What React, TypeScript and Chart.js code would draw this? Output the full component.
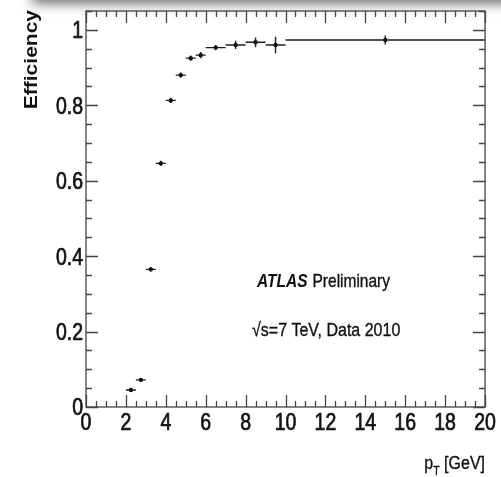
import React, { useEffect, useRef } from 'react';
import { Chart, registerables } from 'chart.js';

Chart.register(...registerables);

// ---- data ----
const binLow = [2, 2.5, 3, 3.5, 4, 4.5, 5, 5.5, 6, 7, 8, 9, 10];
const binHigh = [2.5, 3, 3.5, 4, 4.5, 5, 5.5, 6, 7, 8, 9, 10, 20];
const ptCenter = [2.25, 2.75, 3.25, 3.75, 4.25, 4.75, 5.25, 5.75, 6.5, 7.5, 8.5, 9.5, 15];
const efficiency = [0.045, 0.072, 0.365, 0.646, 0.813, 0.880, 0.925, 0.933, 0.953, 0.960, 0.967, 0.960, 0.973];
const effError = [0.005, 0.005, 0.006, 0.007, 0.007, 0.007, 0.007, 0.008, 0.007, 0.011, 0.013, 0.022, 0.012];

const xTickValues = [0, 2, 4, 6, 8, 10, 12, 14, 16, 18, 20];
const yTickValues = [0, 0.2, 0.4, 0.6, 0.8, 1];
const xMinorStep = 0.5;
const yMinorStep = 0.05;

const yAxisTitle = 'Efficiency';
const xTitleMain = 'p';
const xTitleSub = 'T';
const xTitleUnit = ' [GeV]';
const atlasLabel = 'ATLAS';
const prelimLabel = 'Preliminary';
const energyLabel = '\u221As=7 TeV, Data 2010';

const W = 501;
const H = 477;
const SANS = '"Liberation Sans", Arial, sans-serif';
const STRETCH = 1.2;
const TICK_FONT = `19.5px ${SANS}`;

function stretchedText(
  ctx: CanvasRenderingContext2D,
  text: string,
  x: number,
  y: number,
  font: string,
  align: CanvasTextAlign,
  strokeW = 0
) {
  ctx.save();
  ctx.translate(x, y);
  ctx.scale(1, STRETCH);
  ctx.font = font;
  ctx.textAlign = align;
  ctx.textBaseline = 'alphabetic';
  ctx.fillText(text, 0, 0);
  if (strokeW > 0) {
    ctx.lineWidth = strokeW;
    ctx.strokeStyle = ctx.fillStyle as string;
    ctx.strokeText(text, 0, 0);
  }
  ctx.restore();
}

const rootStylePlugin = {
  id: 'rootStyle',
  beforeDraw(chart: any) {
    const ctx: CanvasRenderingContext2D = chart.ctx;
    ctx.save();
    ctx.fillStyle = '#ffffff';
    ctx.fillRect(0, 0, W, H);
    // top shadow band
    ctx.shadowColor = 'rgba(0,0,0,0.6)';
    ctx.shadowBlur = 12;
    ctx.shadowOffsetY = 3;
    ctx.fillStyle = '#8a8a8a';
    ctx.fillRect(32, -40, W + 60, 40);
    ctx.restore();
  },
  beforeDatasetsDraw(chart: any) {
    const ctx: CanvasRenderingContext2D = chart.ctx;
    const xs = chart.scales.x;
    const ys = chart.scales.y;
    ctx.save();
    ctx.strokeStyle = '#1e1e1e';
    ctx.lineWidth = 1.4;
    for (let i = 0; i < ptCenter.length; i++) {
      const y = ys.getPixelForValue(efficiency[i]);
      const x = xs.getPixelForValue(ptCenter[i]);
      ctx.beginPath();
      ctx.moveTo(xs.getPixelForValue(binLow[i]), y);
      ctx.lineTo(xs.getPixelForValue(binHigh[i]), y);
      ctx.moveTo(x, ys.getPixelForValue(efficiency[i] - effError[i]));
      ctx.lineTo(x, ys.getPixelForValue(efficiency[i] + effError[i]));
      ctx.stroke();
    }
    ctx.restore();
  },
  afterDraw(chart: any) {
    const ctx: CanvasRenderingContext2D = chart.ctx;
    const xs = chart.scales.x;
    const ys = chart.scales.y;
    const { left, right, top, bottom } = chart.chartArea;
    ctx.save();
    ctx.strokeStyle = '#444444';
    ctx.lineWidth = 1.3;
    ctx.strokeRect(left, top, right - left, bottom - top);
    ctx.beginPath();
    // x ticks (bottom & top), inward
    for (let v = xs.min; v <= xs.max + 1e-9; v += xMinorStep) {
      const major = Math.abs(v / 2 - Math.round(v / 2)) < 1e-6;
      const len = major ? 12 : 6;
      const px = Math.round(xs.getPixelForValue(v)) + 0.5;
      ctx.moveTo(px, bottom);
      ctx.lineTo(px, bottom - len);
      ctx.moveTo(px, top);
      ctx.lineTo(px, top + len);
    }
    // y ticks (left & right), inward
    for (let v = ys.min; v <= ys.max + 1e-9; v += yMinorStep) {
      const major = Math.abs(v / 0.2 - Math.round(v / 0.2)) < 1e-6;
      const len = major ? 12 : 6;
      const py = Math.round(ys.getPixelForValue(v)) + 0.5;
      ctx.moveTo(left, py);
      ctx.lineTo(left + len, py);
      ctx.moveTo(right, py);
      ctx.lineTo(right - len, py);
    }
    ctx.stroke();

    ctx.fillStyle = '#111111';
    // tick labels from the library's ticks
    xs.ticks.forEach((t: any) => {
      const label = String(t.value);
      stretchedText(ctx, label, xs.getPixelForValue(t.value), 430, TICK_FONT, 'center', 0.6);
    });
    ys.ticks.forEach((t: any) => {
      const label = String(Number(Number(t.value).toFixed(2)));
      stretchedText(ctx, label, 83, ys.getPixelForValue(t.value) + 8.4, TICK_FONT, 'right', 0.6);
    });

    // y axis title, rotated, aligned to top
    ctx.save();
    ctx.translate(36.5, 10);
    ctx.rotate(-Math.PI / 2);
    ctx.scale(STRETCH, 1);
    ctx.font = `bold 17.5px ${SANS}`;
    ctx.textAlign = 'right';
    ctx.textBaseline = 'alphabetic';
    ctx.fillText(yAxisTitle, 0, 0);
    ctx.restore();

    // x axis title p_T [GeV], right aligned to axis end
    const mainFont = `16px ${SANS}`;
    const subFont = `10.5px ${SANS}`;
    ctx.font = mainFont;
    const wMain = ctx.measureText(xTitleMain).width;
    const wUnit = ctx.measureText(xTitleUnit).width;
    ctx.font = subFont;
    const wSub = ctx.measureText(xTitleSub).width;
    const baseY = 469;
    let tx = right - (wMain + wSub + wUnit);
    stretchedText(ctx, xTitleMain, tx, baseY, mainFont, 'left', 0.3);
    tx += wMain;
    stretchedText(ctx, xTitleSub, tx, baseY + 6, subFont, 'left', 0.3);
    tx += wSub;
    stretchedText(ctx, xTitleUnit, tx, baseY, mainFont, 'left', 0.3);

    // ATLAS Preliminary
    const atlasFont = `italic bold 15.5px ${SANS}`;
    const prelimFont = `15.5px ${SANS}`;
    ctx.font = atlasFont;
    const wAtlas = ctx.measureText(atlasLabel).width;
    stretchedText(ctx, atlasLabel, 257, 286.5, atlasFont, 'left');
    stretchedText(ctx, prelimLabel, 257 + wAtlas + 5, 286.5, prelimFont, 'left', 0.3);
    // energy label
    stretchedText(ctx, energyLabel, 252, 336, `16px ${SANS}`, 'left', 0.3);
    ctx.restore();
  },
};

export default function App() {
  const canvasRef = useRef<HTMLCanvasElement | null>(null);

  useEffect(() => {
    document.body.style.margin = '0';
    const canvas = canvasRef.current;
    if (!canvas) return;
    const points = ptCenter.map((x, i) => ({ x, y: efficiency[i] }));
    const chart = new Chart(canvas, {
      type: 'scatter',
      data: {
        datasets: [
          {
            data: points,
            pointRadius: 2.2,
            pointStyle: 'circle',
            backgroundColor: '#111111',
            borderWidth: 0,
            showLine: false,
          },
        ],
      },
      options: {
        responsive: false,
        animation: false,
        events: [],
        layout: { padding: { top: 11, right: 16, left: 0, bottom: 0 } },
        plugins: {
          legend: { display: false },
          tooltip: { enabled: false },
          title: { display: false },
        },
        scales: {
          x: {
            type: 'linear',
            min: 0,
            max: 20,
            grid: { display: false, drawTicks: false },
            border: { display: false },
            afterBuildTicks: (scale: any) => {
              scale.ticks = xTickValues.map((v) => ({ value: v }));
            },
            afterFit: (scale: any) => {
              scale.height = 70;
            },
            ticks: { display: false, autoSkip: false, maxRotation: 0 },
          },
          y: {
            type: 'linear',
            min: 0,
            max: 1.05,
            grid: { display: false, drawTicks: false },
            border: { display: false },
            afterBuildTicks: (scale: any) => {
              scale.ticks = yTickValues.map((v) => ({ value: v }));
            },
            afterFit: (scale: any) => {
              scale.width = 86;
            },
            ticks: { display: false, autoSkip: false },
          },
        },
      },
      plugins: [rootStylePlugin],
    });
    return () => chart.destroy();
  }, []);

  return (
    <div style={{ position: 'fixed', left: 0, top: 0, width: W, height: H, background: '#fff' }}>
      <canvas ref={canvasRef} width={W} height={H} style={{ display: 'block', width: W, height: H }} />
    </div>
  );
}
